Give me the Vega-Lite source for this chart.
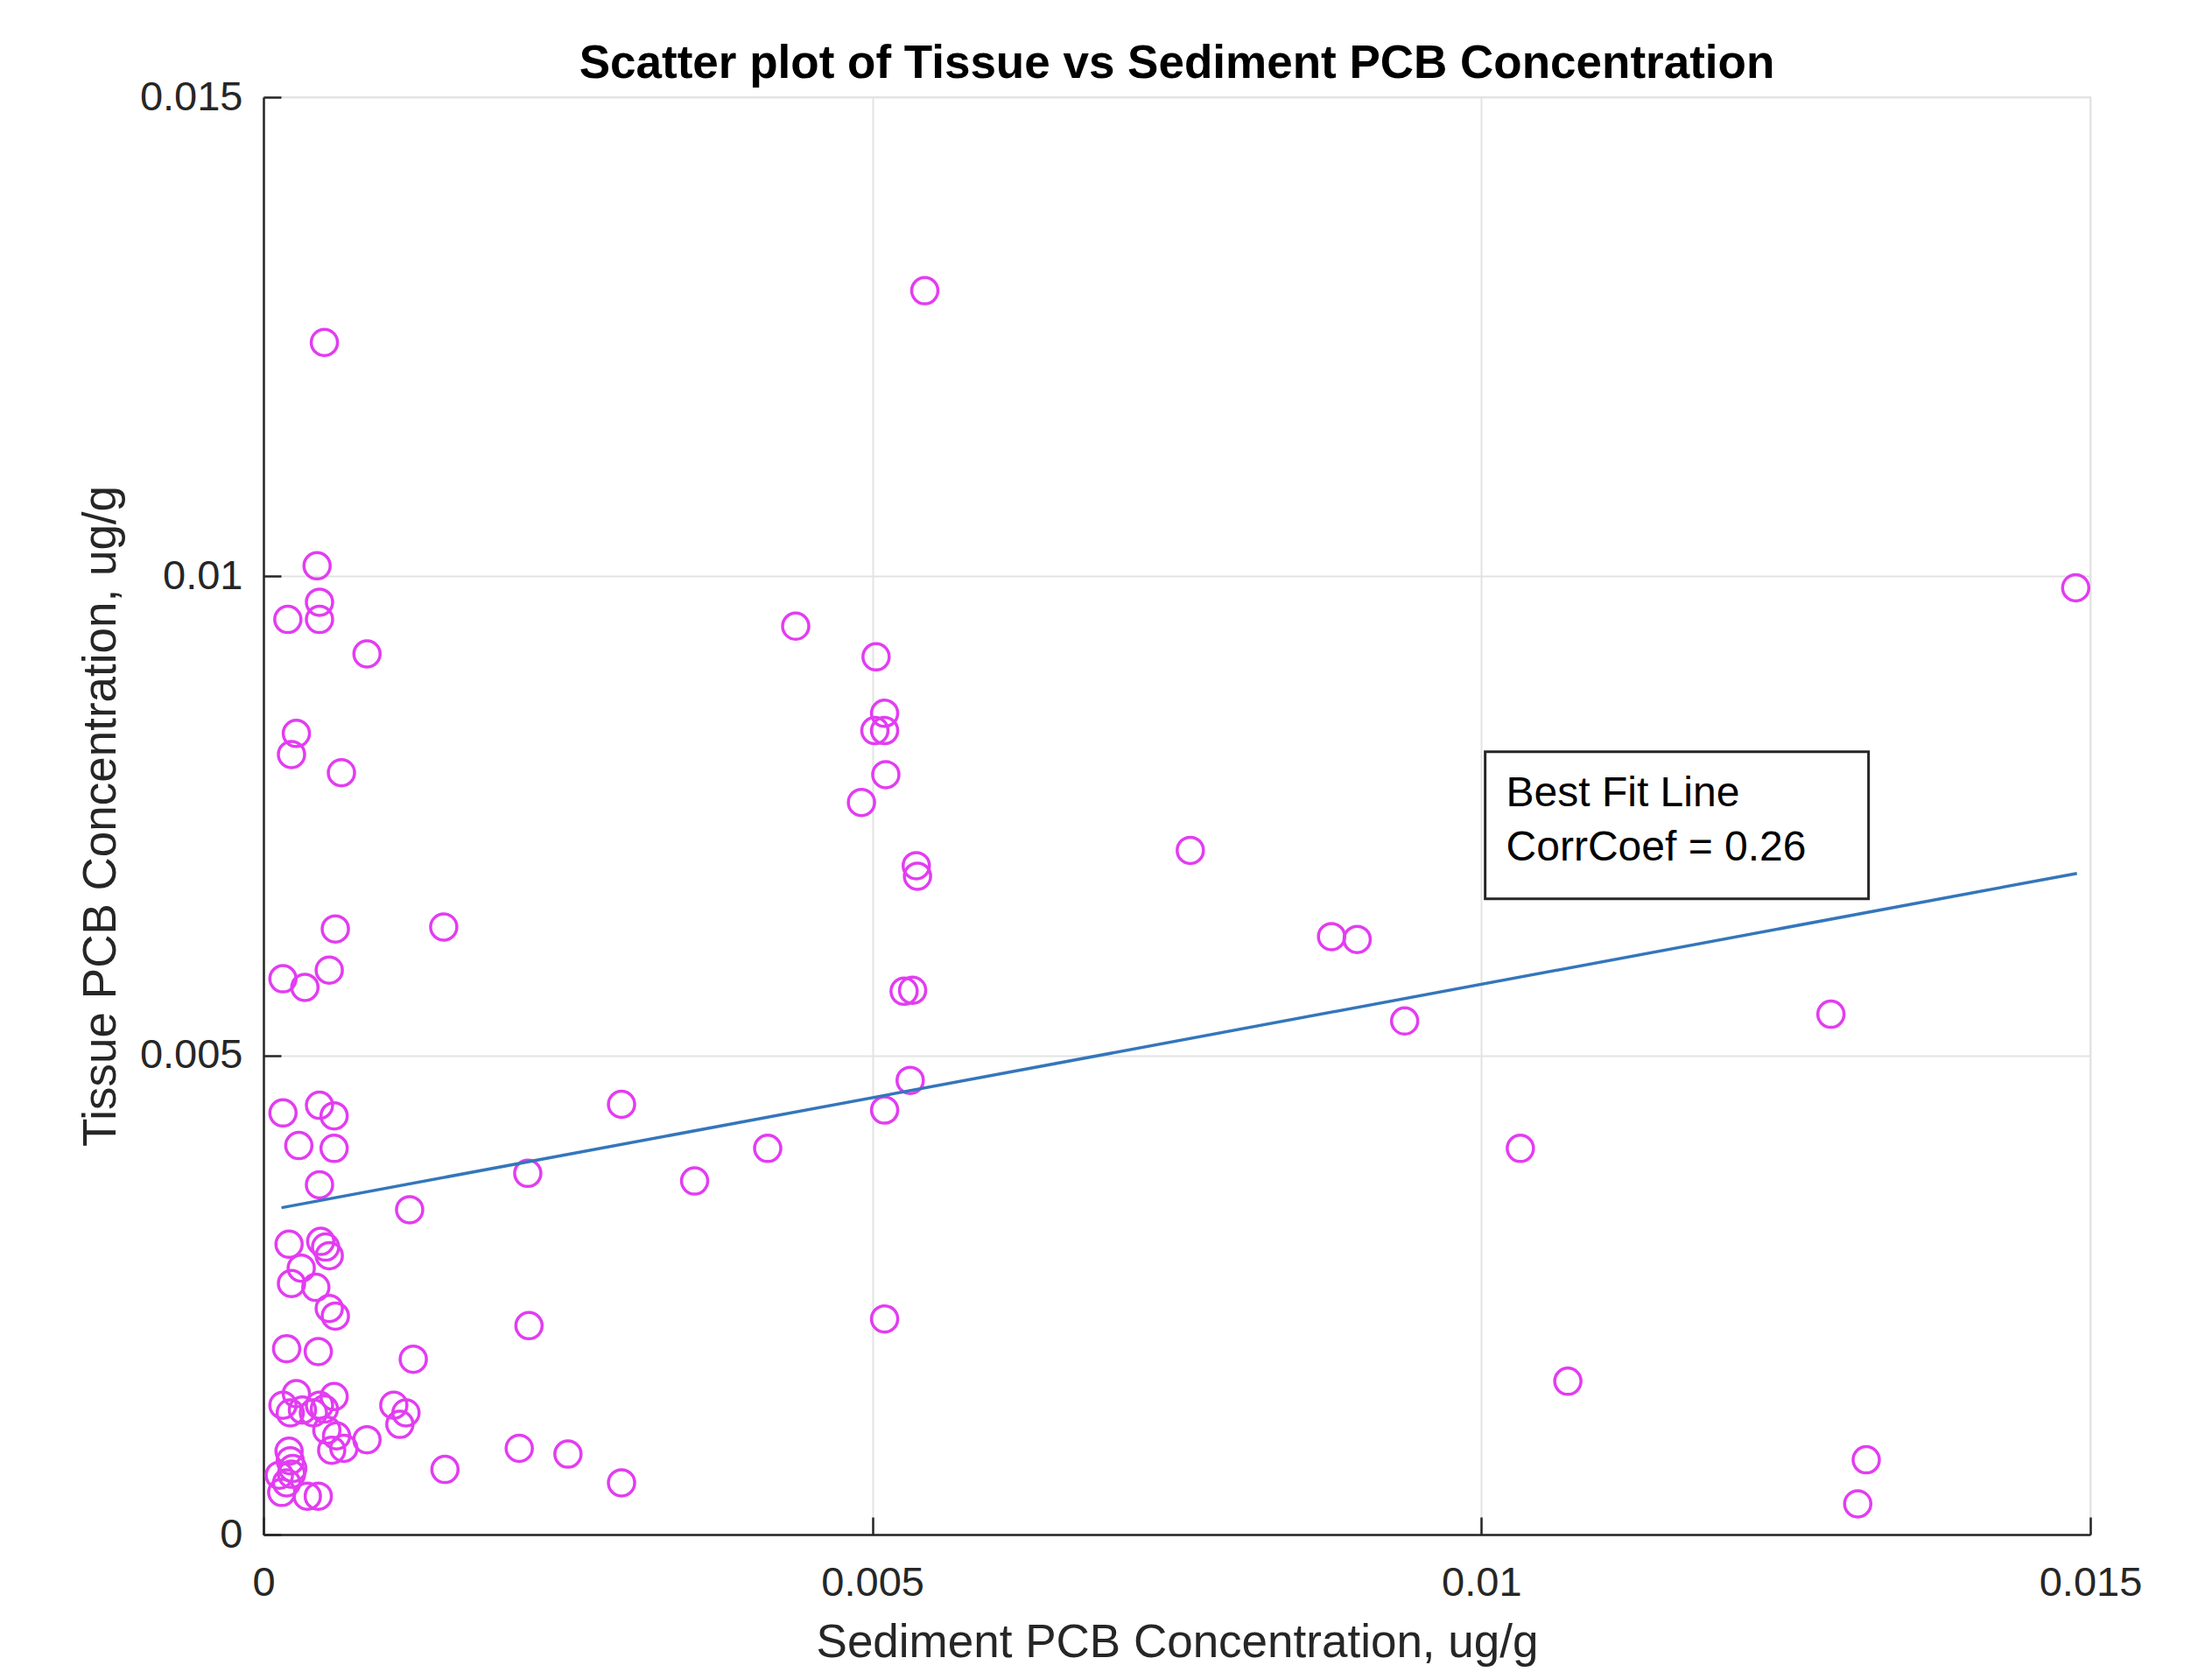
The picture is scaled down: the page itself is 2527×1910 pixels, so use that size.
{
  "$schema": "https://vega.github.io/schema/vega-lite/v6.json",
  "width": 2087,
  "height": 1642,
  "autosize": {"type": "none"},
  "padding": {"left": 301, "top": 111, "right": 139, "bottom": 157},
  "background": "white",
  "title": {
    "text": "Scatter plot of Tissue vs Sediment PCB Concentration",
    "font": "Liberation Sans",
    "fontSize": 53,
    "fontWeight": "bold",
    "color": "#000000",
    "anchor": "middle",
    "frame": "group",
    "baseline": "alphabetic",
    "offset": -55
  },
  "config": {
    "view": {"stroke": "#e3e3e3", "strokeWidth": 2},
    "axis": {
      "labelFont": "Liberation Sans",
      "titleFont": "Liberation Sans",
      "labelFontSize": 47,
      "titleFontSize": 53,
      "labelColor": "#262626",
      "titleColor": "#262626",
      "titleFontWeight": "normal",
      "domainColor": "#262626",
      "domainWidth": 2.5,
      "tickColor": "#262626",
      "tickWidth": 2.5,
      "tickSize": -20,
      "gridColor": "#e3e3e3",
      "gridWidth": 2
    }
  },
  "datasets": {
    "points": [
      {"sediment": 0.00050, "tissue": 0.01244},
      {"sediment": 0.00543, "tissue": 0.01298},
      {"sediment": 0.00044, "tissue": 0.01011},
      {"sediment": 0.00046, "tissue": 0.00973},
      {"sediment": 0.00020, "tissue": 0.00955},
      {"sediment": 0.00046, "tissue": 0.00955},
      {"sediment": 0.00085, "tissue": 0.00919},
      {"sediment": 0.00437, "tissue": 0.00948},
      {"sediment": 0.00503, "tissue": 0.00916},
      {"sediment": 0.00027, "tissue": 0.00836},
      {"sediment": 0.00023, "tissue": 0.00814},
      {"sediment": 0.00064, "tissue": 0.00795},
      {"sediment": 0.00510, "tissue": 0.00857},
      {"sediment": 0.00502, "tissue": 0.00839},
      {"sediment": 0.00510, "tissue": 0.00839},
      {"sediment": 0.00511, "tissue": 0.00793},
      {"sediment": 0.00491, "tissue": 0.00764},
      {"sediment": 0.01488, "tissue": 0.00988},
      {"sediment": 0.00761, "tissue": 0.00714},
      {"sediment": 0.00536, "tissue": 0.00698},
      {"sediment": 0.00537, "tissue": 0.00687},
      {"sediment": 0.00877, "tissue": 0.00624},
      {"sediment": 0.00898, "tissue": 0.00621},
      {"sediment": 0.00059, "tissue": 0.00632},
      {"sediment": 0.00148, "tissue": 0.00634},
      {"sediment": 0.00054, "tissue": 0.00589},
      {"sediment": 0.00016, "tissue": 0.00580},
      {"sediment": 0.00034, "tissue": 0.00571},
      {"sediment": 0.00526, "tissue": 0.00567},
      {"sediment": 0.00533, "tissue": 0.00568},
      {"sediment": 0.00937, "tissue": 0.00536},
      {"sediment": 0.01287, "tissue": 0.00543},
      {"sediment": 0.00531, "tissue": 0.00474},
      {"sediment": 0.00016, "tissue": 0.00440},
      {"sediment": 0.00046, "tissue": 0.00448},
      {"sediment": 0.00058, "tissue": 0.00437},
      {"sediment": 0.00294, "tissue": 0.00449},
      {"sediment": 0.00510, "tissue": 0.00443},
      {"sediment": 0.00029, "tissue": 0.00406},
      {"sediment": 0.00058, "tissue": 0.00403},
      {"sediment": 0.00414, "tissue": 0.00403},
      {"sediment": 0.01032, "tissue": 0.00403},
      {"sediment": 0.00217, "tissue": 0.00377},
      {"sediment": 0.00354, "tissue": 0.00369},
      {"sediment": 0.00046, "tissue": 0.00365},
      {"sediment": 0.00120, "tissue": 0.00339},
      {"sediment": 0.00021, "tissue": 0.00303},
      {"sediment": 0.00047, "tissue": 0.00306},
      {"sediment": 0.00051, "tissue": 0.00300},
      {"sediment": 0.00054, "tissue": 0.00291},
      {"sediment": 0.00031, "tissue": 0.00278},
      {"sediment": 0.00023, "tissue": 0.00262},
      {"sediment": 0.00043, "tissue": 0.00258},
      {"sediment": 0.00054, "tissue": 0.00236},
      {"sediment": 0.00059, "tissue": 0.00228},
      {"sediment": 0.00510, "tissue": 0.00225},
      {"sediment": 0.00218, "tissue": 0.00218},
      {"sediment": 0.00019, "tissue": 0.00194},
      {"sediment": 0.00045, "tissue": 0.00191},
      {"sediment": 0.00123, "tissue": 0.00183},
      {"sediment": 0.01071, "tissue": 0.00160},
      {"sediment": 0.00016, "tissue": 0.00135},
      {"sediment": 0.00027, "tissue": 0.00147},
      {"sediment": 0.00022, "tissue": 0.00127},
      {"sediment": 0.00032, "tissue": 0.00130},
      {"sediment": 0.00041, "tissue": 0.00127},
      {"sediment": 0.00046, "tissue": 0.00135},
      {"sediment": 0.00050, "tissue": 0.00131},
      {"sediment": 0.00058, "tissue": 0.00144},
      {"sediment": 0.00107, "tissue": 0.00135},
      {"sediment": 0.00112, "tissue": 0.00115},
      {"sediment": 0.00117, "tissue": 0.00127},
      {"sediment": 0.00052, "tissue": 0.00109},
      {"sediment": 0.00060, "tissue": 0.00103},
      {"sediment": 0.00056, "tissue": 0.00088},
      {"sediment": 0.00066, "tissue": 0.00090},
      {"sediment": 0.00085, "tissue": 0.00099},
      {"sediment": 0.00021, "tissue": 0.00087},
      {"sediment": 0.00022, "tissue": 0.00077},
      {"sediment": 0.00024, "tissue": 0.00069},
      {"sediment": 0.00013, "tissue": 0.00062},
      {"sediment": 0.00023, "tissue": 0.00063},
      {"sediment": 0.00019, "tissue": 0.00054},
      {"sediment": 0.00015, "tissue": 0.00044},
      {"sediment": 0.00036, "tissue": 0.00040},
      {"sediment": 0.00045, "tissue": 0.00040},
      {"sediment": 0.00149, "tissue": 0.00068},
      {"sediment": 0.00210, "tissue": 0.00090},
      {"sediment": 0.00250, "tissue": 0.00084},
      {"sediment": 0.00294, "tissue": 0.00054},
      {"sediment": 0.01316, "tissue": 0.00078},
      {"sediment": 0.01309, "tissue": 0.00032}
    ],
    "fit": [
      {"sediment": 0.000148, "tissue": 0.003411},
      {"sediment": 0.01489, "tissue": 0.00690}
    ]
  },
  "layer": [
    {
      "data": {"name": "points"},
      "mark": {"type": "point", "shape": "circle", "filled": false, "size": 900, "strokeWidth": 3.5, "color": "#e33cf2", "opacity": 1},
      "encoding": {
        "x": {
          "field": "sediment", "type": "quantitative",
          "title": "Sediment PCB Concentration, ug/g",
          "scale": {"domain": [0, 0.015], "nice": false, "zero": false},
          "axis": {"values": [0, 0.005, 0.01, 0.015], "format": "~g", "labelPadding": 52, "titlePadding": 19, "labelFlush": false}
        },
        "y": {
          "field": "tissue", "type": "quantitative",
          "title": "Tissue PCB Concentration, ug/g",
          "scale": {"domain": [0, 0.015], "nice": false, "zero": false},
          "axis": {"values": [0, 0.005, 0.01, 0.015], "format": "~g", "labelPadding": 44, "titlePadding": 17, "labelFlush": false}
        }
      }
    },
    {
      "data": {"name": "fit"},
      "mark": {"type": "line", "color": "#3476bb", "strokeWidth": 3.5},
      "encoding": {
        "x": {"field": "sediment", "type": "quantitative"},
        "y": {"field": "tissue", "type": "quantitative"}
      }
    },
    {
      "data": {"values": [{}]},
      "mark": {"type": "rect", "fill": "white", "stroke": "#262626", "strokeWidth": 3},
      "encoding": {
        "x": {"datum": 0.010031, "type": "quantitative"},
        "x2": {"datum": 0.013179},
        "y": {"datum": 0.00817, "type": "quantitative"},
        "y2": {"datum": 0.006635}
      }
    },
    {
      "data": {"values": [{}]},
      "mark": {"type": "text", "text": ["Best Fit Line", "CorrCoef = 0.26"], "font": "Liberation Sans", "fontSize": 48, "color": "#000000", "align": "left", "baseline": "alphabetic", "lineHeight": 62},
      "encoding": {
        "x": {"datum": 0.010203, "type": "quantitative"},
        "y": {"datum": 0.007603, "type": "quantitative"}
      }
    }
  ]
}
